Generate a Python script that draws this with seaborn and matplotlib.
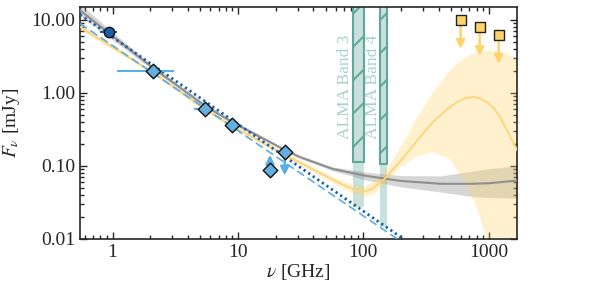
import numpy as np
import pandas as pd
import matplotlib
matplotlib.use("Agg")
import matplotlib.pyplot as plt
import seaborn as sns
from matplotlib.patches import Rectangle
from matplotlib.ticker import FuncFormatter, NullFormatter

# --- detections (GHz, mJy) ---
circle_nu = [0.94]
circle_f = [6.8]
circle_xlo = [0.80]
circle_xhi = [1.08]

diam_nu = [2.09, 5.5, 9.0]
diam_f = [2.0, 0.60, 0.365]
diam_xlo = [1.08, 4.5, 9.0]
diam_xhi = [3.07, 6.4, 9.0]

# points with arrows (start, end of arrow)
lim_nu = [18.0, 23.6]
lim_f = [0.089, 0.157]
lim_arrow_from = [0.105, 0.125]
lim_arrow_to = [0.142, 0.074]

# upper limits (squares)
ul_nu = [597, 847, 1200]
ul_f = [10.0, 8.0, 6.2]
ul_arrow_to = [4.0, 3.2, 2.5]

# --- power laws ---
dot_nu = [0.55, 209]
dot_f = [11.8, 0.01]
dash_nu = [0.55, 187]
dash_f = [8.9, 0.01]

# --- gray model ---
gray_nu = [0.55, 1, 2.1, 5.5, 9, 23, 31, 57, 106, 195, 410, 750, 1000, 1700]
gray_f = [13.5, 6.0, 2.2, 0.66, 0.40, 0.17, 0.133, 0.091, 0.073, 0.0626, 0.057, 0.057, 0.058, 0.063]
gray_lo = [11.5, 5.3, 2.05, 0.62, 0.375, 0.162, 0.127, 0.086, 0.064, 0.052, 0.044, 0.038, 0.037, 0.036]
gray_hi = [16.5, 6.8, 2.35, 0.70, 0.42, 0.178, 0.139, 0.097, 0.082, 0.074, 0.073, 0.085, 0.092, 0.10]

# --- yellow model ---
yel_nu = [0.55, 1, 2.1, 5.5, 9, 24, 31, 45, 65, 83, 100, 119, 147, 195, 267, 358,
          490, 575, 668, 775, 870, 966, 1100, 1227, 1473, 1700]
yel_f = [8.0, 4.2, 1.9, 0.59, 0.35, 0.14, 0.112, 0.080, 0.058, 0.048, 0.044, 0.049,
         0.066, 0.113, 0.22, 0.40, 0.64, 0.77, 0.86, 0.88, 0.83, 0.75, 0.62, 0.47, 0.26, 0.16]
yel_lo = [7.3, 3.9, 1.78, 0.56, 0.33, 0.13, 0.104, 0.073, 0.052, 0.041, 0.038, 0.040,
          0.055, 0.095, 0.135, 0.155, 0.125, 0.08, 0.054, 0.031, 0.018, 0.0095, 0.004,
          0.002, 0.001, 0.0005]
yel_hi = [8.8, 4.6, 2.0, 0.62, 0.37, 0.15, 0.12, 0.087, 0.064, 0.055, 0.052, 0.060,
          0.080, 0.17, 0.45, 1.0, 2.0, 2.6, 3.1, 3.5, 3.7, 3.8, 3.8, 3.7, 3.3, 2.9]

# --- ALMA bands ---
band_names = ["ALMA Band 3", "ALMA Band 4"]
band_lo = [83, 137]
band_hi = [102, 155]
band_box_bottom = [0.115, 0.105]
band_fill_bottom = [0.027, 0.0147]

TEAL = "#5fa99c"
DARKBLUE = "#1c5da8"
LIGHTBLUE = "#5aaee6"
GOLD = "#ffd36b"

sns.set_style("ticks")
plt.rcParams["font.family"] = ["Liberation Serif", "DejaVu Serif"]
plt.rcParams["mathtext.fontset"] = "stix"
plt.rcParams["hatch.linewidth"] = 1.5
plt.rcParams["hatch.color"] = TEAL

fig = plt.figure(figsize=(5.98, 2.9), dpi=100)
ax = fig.add_axes([0.1338, 0.1759, 0.7307, 0.8])
ax.set_xscale("log")
ax.set_yscale("log")

# ALMA bands
for name, lo, hi, bb, fb in zip(band_names, band_lo, band_hi, band_box_bottom, band_fill_bottom):
    ax.add_patch(Rectangle((lo, fb), hi - lo, bb - fb, facecolor=TEAL, alpha=0.35,
                           edgecolor="none", zorder=1))
    ax.add_patch(Rectangle((lo, bb), hi - lo, 20 - bb, facecolor="#c9e0dc",
                           edgecolor=TEAL, hatch="/", linewidth=1.5, zorder=1))
    ax.text(lo * 1.005, 0.232, name, rotation=90, ha="right", va="bottom",
            color="#a5d3c8", fontsize=12.5, zorder=2)

# model bands + lines
ax.fill_between(gray_nu, gray_lo, gray_hi, color="#8a8a8a", alpha=0.35, lw=0, zorder=2)
ax.fill_between(yel_nu, yel_lo, yel_hi, color="#ffd35c", alpha=0.3, lw=0, zorder=2)

gray_df = pd.DataFrame({"nu": gray_nu, "f": gray_f})
yel_df = pd.DataFrame({"nu": yel_nu, "f": yel_f})
sns.lineplot(data=gray_df, x="nu", y="f", color="#8f8f8f", lw=1.5, ax=ax, zorder=3)
sns.lineplot(data=yel_df, x="nu", y="f", color="#fdd47a", lw=1.3, ax=ax, zorder=3)

sns.lineplot(x=dash_nu, y=dash_f, color=LIGHTBLUE, lw=1.2, ax=ax, zorder=4,
             linestyle=(0, (5, 2.5)))
sns.lineplot(x=dot_nu, y=dot_f, color=DARKBLUE, lw=2.0, ax=ax, zorder=4,
             linestyle=(0, (0.8, 1.2)))

# error bars
ax.errorbar(circle_nu, circle_f,
            xerr=[np.subtract(circle_nu, circle_xlo), np.subtract(circle_xhi, circle_nu)],
            fmt="none", ecolor=DARKBLUE, elinewidth=1.5, zorder=5)
ax.errorbar(diam_nu, diam_f,
            xerr=[np.subtract(diam_nu, diam_xlo), np.subtract(diam_xhi, diam_nu)],
            fmt="none", ecolor=LIGHTBLUE, elinewidth=1.5, zorder=5)

# arrows
for x, y0, y1 in zip(lim_nu, lim_arrow_from, lim_arrow_to):
    ax.annotate("", xy=(x, y1), xytext=(x, y0),
                arrowprops=dict(arrowstyle="-|>,head_length=0.5,head_width=0.25",
                                color=LIGHTBLUE, lw=1.8, shrinkA=0, shrinkB=0), zorder=5)
for x, y0, y1 in zip(ul_nu, ul_f, ul_arrow_to):
    ax.annotate("", xy=(x, y1), xytext=(x, y0),
                arrowprops=dict(arrowstyle="-|>,head_length=0.5,head_width=0.25",
                                color=GOLD, lw=1.8, shrinkA=0, shrinkB=0), zorder=5)

# markers
sns.scatterplot(x=circle_nu, y=circle_f, marker="o", s=55, color=DARKBLUE,
                edgecolor="#111111", linewidth=1.0, ax=ax, zorder=6)
sns.scatterplot(x=diam_nu + lim_nu, y=diam_f + lim_f, marker="D", s=55, color="#62afe0",
                edgecolor="#111111", linewidth=1.0, ax=ax, zorder=6)
sns.scatterplot(x=ul_nu, y=ul_f, marker="s", s=45, color=GOLD,
                edgecolor="#222222", linewidth=1.0, ax=ax, zorder=6)

ax.set_xlim(0.55, 1680)
ax.set_ylim(0.01, 15)
ax.set_xticks([1, 10, 100, 1000])
ax.xaxis.set_major_formatter(FuncFormatter(lambda v, p: f"{v:g}"))
ax.set_yticks([0.01, 0.1, 1, 10])
ax.yaxis.set_major_formatter(FuncFormatter(lambda v, p: f"{v:.2f}"))
ax.xaxis.set_minor_formatter(NullFormatter())
ax.yaxis.set_minor_formatter(NullFormatter())
ax.tick_params(which="both", direction="in", top=True, right=True, labelsize=14, width=1.0)
ax.tick_params(which="major", length=5)
ax.tick_params(which="minor", length=3)
for sp in ax.spines.values():
    sp.set_linewidth(1.2)

ax.set_xlabel(r"$\nu$ [GHz]", fontsize=14)
ax.set_ylabel(r"$F_\nu$ [mJy]", fontsize=14)
ax.yaxis.set_label_coords(-0.133, 0.5)
ax.xaxis.set_label_coords(0.5, -0.1)

fig.savefig("out.png", dpi=100)
